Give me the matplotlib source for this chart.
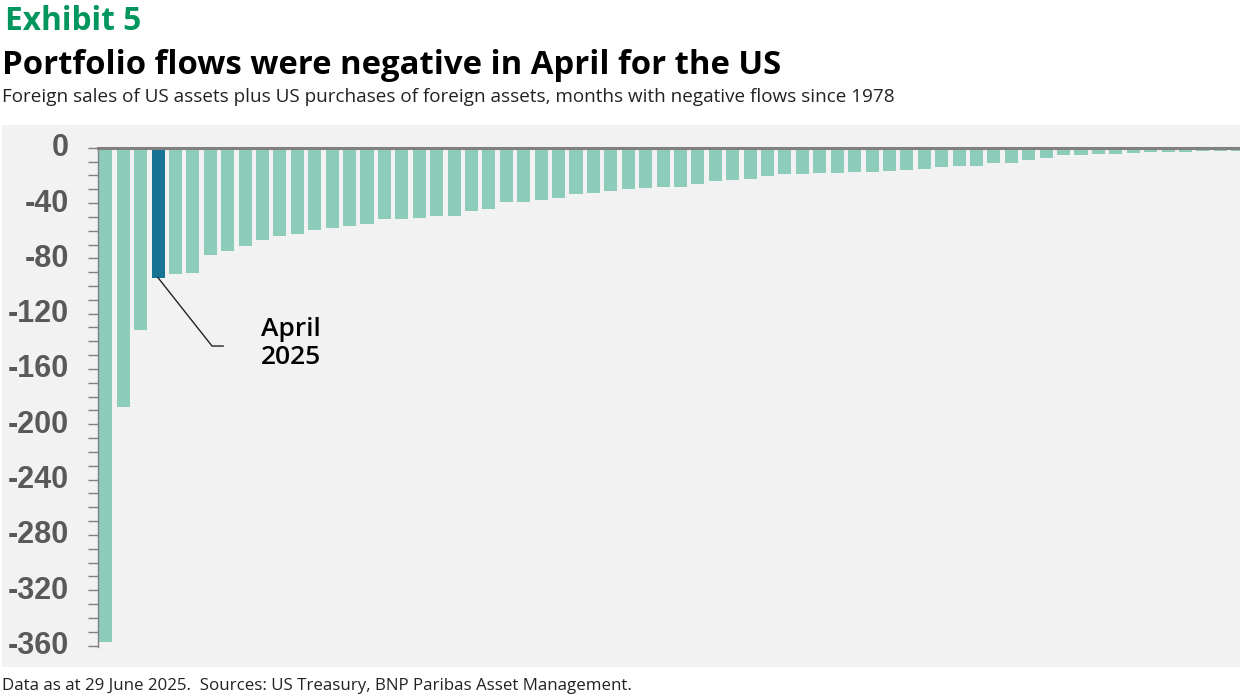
import matplotlib
matplotlib.use('Agg')
import matplotlib.pyplot as plt
from matplotlib.patches import Rectangle
from matplotlib.ticker import MultipleLocator, FixedLocator
import matplotlib.transforms as mtransforms

# Monthly negative portfolio flows (USD bn), sorted from most negative
flows = [-357.2, -187.3, -131.6, -94.0, -91.3, -90.6, -77.6, -74.7, -71.1, -66.8,
         -63.9, -62.4, -59.5, -58.1, -56.6, -55.2, -51.6, -51.6, -50.8, -49.4,
         -49.4, -45.8, -44.3, -39.3, -39.3, -37.8, -36.4, -33.5, -32.8, -31.3,
         -29.9, -29.2, -28.4, -28.4, -26.3, -24.1, -23.4, -22.6, -20.5, -19.0,
         -19.0, -18.3, -18.3, -17.6, -17.6, -16.8, -16.1, -15.4, -13.9, -13.2,
         -13.2, -11.1, -11.1, -8.9, -7.5, -5.3, -5.3, -4.6, -4.6, -3.9,
         -3.1, -3.1, -3.1, -2.4, -2.4, -2.4]
highlight_idx = 3  # April 2025
ytick_vals = [0, -40, -80, -120, -160, -200, -240, -280, -320, -360]

light = '#8DCBBB'
dark = '#187394'
grey_txt = '#595959'

fig = plt.figure(figsize=(12.4, 6.96), dpi=100)

# light grey panel behind the chart
fig.patches.append(Rectangle((0.0016, 0.0417), 0.9984, 0.7787, transform=fig.transFigure,
                             facecolor='#F2F2F2', edgecolor='none', zorder=-1))

ax = fig.add_axes([0.079, 0.0704, 0.921, 0.7174])
ax.set_zorder(2)
ax.patch.set_alpha(0)

x = list(range(len(flows)))
colors = [dark if i == highlight_idx else light for i in x]
ax.bar(x, flows, width=0.75, color=colors, zorder=2)

ax.set_xlim(-0.45, 65.13)
ax.set_ylim(-361, 0)
ax.axhline(0, color='#808080', lw=2.2, zorder=3, clip_on=False)

for s in ['top', 'right', 'bottom']:
    ax.spines[s].set_visible(False)
ax.spines['left'].set_color('#808080')
ax.spines['left'].set_linewidth(1)
ax.set_xticks([])

ax.yaxis.set_major_locator(FixedLocator(ytick_vals))
ax.yaxis.set_minor_locator(MultipleLocator(10))
ax.set_yticklabels([str(v) for v in ytick_vals])
ax.tick_params(axis='y', which='both', length=7.5, width=1, color='#808080')
ax.tick_params(axis='y', which='major', pad=13.5, labelsize=22, labelcolor=grey_txt)
offset = mtransforms.ScaledTranslation(0, 3 / 100, fig.dpi_scale_trans)
for lab in ax.get_yticklabels():
    lab.set_fontfamily('Liberation Sans')
    lab.set_fontweight('bold')
    lab.set_transform(lab.get_transform() + offset)

# annotation for April 2025
ax.plot([highlight_idx, 6.1, 6.74], [flows[highlight_idx], -143.4, -143.4],
        color='#222222', lw=1, zorder=4)
ax.text(8.9, -141.5, 'April\n2025', ha='left', va='center', fontsize=19,
        linespacing=1.15, family='Open Sans', fontweight='semibold', color='black')

# titles
fig.text(0.004, 0.957, 'Exhibit 5', fontsize=22.8, fontweight='bold', color='#00965E',
         family='Open Sans', va='baseline')
fig.text(0.002, 0.894, 'Portfolio flows were negative in April for the US', fontsize=23.7,
         fontweight='bold', color='black', family='Open Sans', va='baseline')
fig.text(0.002, 0.854, 'Foreign sales of US assets plus US purchases of foreign assets, '
         'months with negative flows since 1978', fontsize=13.6, color='#222222',
         family='Open Sans', va='baseline')
fig.text(0.002, 0.0086, 'Data as at 29 June 2025.  Sources: US Treasury, BNP Paribas Asset Management.',
         fontsize=12.2, color='#222222', family='Open Sans', va='baseline')

fig.savefig('out.png', dpi=100)
